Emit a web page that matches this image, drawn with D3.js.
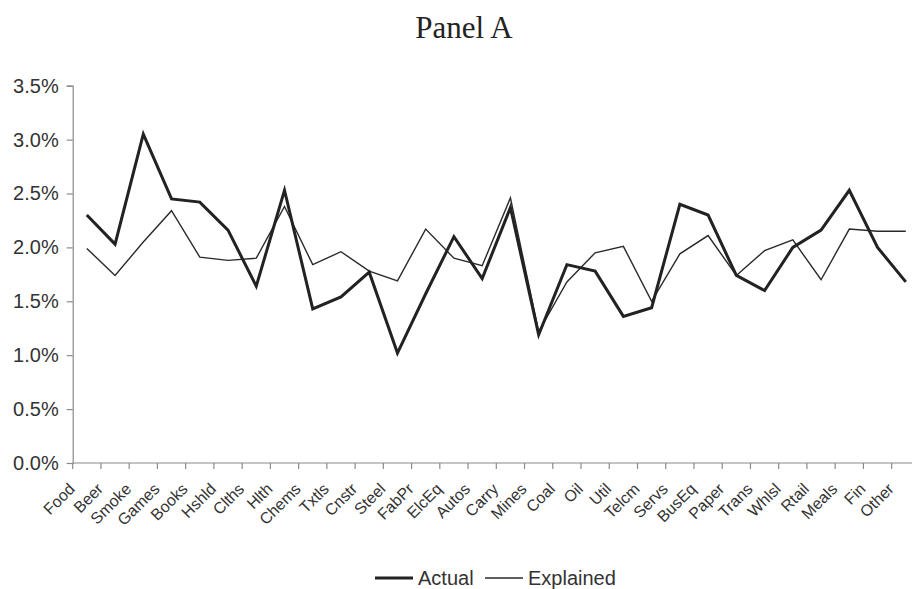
<!DOCTYPE html>
<html>
<head>
<meta charset="utf-8">
<script src="https://cdn.jsdelivr.net/npm/d3@7"></script>
<style>
  html, body { margin: 0; padding: 0; background: #ffffff; }
  svg { display: block; }
</style>
</head>
<body>
<svg id="chart" width="912" height="589"></svg>
<script>
// Industry portfolios (Fama-French 30)
const industries = ["Food","Beer","Smoke","Games","Books","Hshld","Clths","Hlth","Chems","Txtls",
  "Cnstr","Steel","FabPr","ElcEq","Autos","Carry","Mines","Coal","Oil","Util",
  "Telcm","Servs","BusEq","Paper","Trans","Whlsl","Rtail","Meals","Fin","Other"];

// Actual values, percent
const actual = [2.30, 2.03, 3.05, 2.45, 2.42, 2.16, 1.64, 2.53, 1.43, 1.54,
  1.77, 1.02, 1.57, 2.10, 1.71, 2.37, 1.19, 1.84, 1.78, 1.36,
  1.44, 2.40, 2.30, 1.74, 1.60, 2.00, 2.16, 2.53, 2.00, 1.68];

// Explained values, percent
const explained = [1.99, 1.74, 2.05, 2.34, 1.91, 1.88, 1.90, 2.38, 1.84, 1.96,
  1.78, 1.69, 2.17, 1.90, 1.83, 2.46, 1.22, 1.68, 1.95, 2.01,
  1.50, 1.94, 2.11, 1.74, 1.97, 2.07, 1.70, 2.17, 2.15, 2.15];

const yTicks = [0, 0.5, 1.0, 1.5, 2.0, 2.5, 3.0, 3.5];
const titleText = "Panel A";

const svg = d3.select("#chart");
const plotLeft = 72.7, plotRight = 919.9, plotTop = 85.7, plotBottom = 463;

const x = d3.scaleBand().domain(industries).range([plotLeft, plotRight]).paddingInner(0).paddingOuter(0);
const y = d3.scaleLinear().domain([0, 3.5]).range([plotBottom, plotTop]);
const xc = d => x(d) + x.bandwidth() / 2;

// Title
svg.append("text")
  .attr("x", 464).attr("y", 38)
  .attr("text-anchor", "middle")
  .attr("font-family", "'Liberation Serif', 'Times New Roman', serif")
  .attr("font-size", 31)
  .attr("fill", "#222")
  .text(titleText);

const axisColor = "#8a8a8a";
const sans = "'Liberation Sans', Arial, sans-serif";

// Y axis
const yAxis = svg.append("g")
  .attr("transform", `translate(${plotLeft},0)`)
  .call(d3.axisLeft(y).tickValues(yTicks).tickSize(6).tickPadding(8)
    .tickFormat(d => d.toFixed(1) + "%"));
yAxis.select(".domain").attr("stroke", axisColor).attr("stroke-width", 1.2);
yAxis.selectAll(".tick line").attr("stroke", axisColor).attr("stroke-width", 1.2);
yAxis.selectAll(".tick text").attr("font-family", sans).attr("font-size", 20).attr("fill", "#333");

// X axis: ticks at band boundaries
const xAxis = svg.append("g")
  .attr("transform", `translate(0,${plotBottom})`);
xAxis.append("line")
  .attr("x1", plotLeft).attr("x2", plotRight).attr("y1", 0).attr("y2", 0)
  .attr("stroke", axisColor).attr("stroke-width", 1.2);
xAxis.selectAll("line.tk")
  .data(industries)
  .join("line").attr("class", "tk")
  .attr("x1", d => x(d)).attr("x2", d => x(d))
  .attr("y1", 0).attr("y2", 6)
  .attr("stroke", axisColor).attr("stroke-width", 1.2);
xAxis.selectAll("text.lbl")
  .data(industries)
  .join("text").attr("class", "lbl")
  .attr("transform", d => `translate(${xc(d) - 11},${27}) rotate(-45)`)
  .attr("text-anchor", "end")
  .attr("font-family", sans)
  .attr("font-size", 16)
  .attr("fill", "#333")
  .text(d => d);

// Lines
const line = d3.line().x((d, i) => xc(industries[i])).y(d => y(d));
svg.append("path").datum(explained)
  .attr("d", line).attr("fill", "none")
  .attr("stroke", "#2a2a2a").attr("stroke-width", 1.4)
  .attr("stroke-linejoin", "miter");
svg.append("path").datum(actual)
  .attr("d", line).attr("fill", "none")
  .attr("stroke", "#222").attr("stroke-width", 3)
  .attr("stroke-linejoin", "miter");

// Legend
const leg = svg.append("g").attr("font-family", sans).attr("font-size", 20).attr("fill", "#333");
leg.append("line").attr("x1", 375).attr("x2", 413).attr("y1", 578).attr("y2", 578)
  .attr("stroke", "#222").attr("stroke-width", 3);
leg.append("text").attr("x", 418).attr("y", 585).text("Actual");
leg.append("line").attr("x1", 485).attr("x2", 523).attr("y1", 578).attr("y2", 578)
  .attr("stroke", "#2a2a2a").attr("stroke-width", 1.4);
leg.append("text").attr("x", 528).attr("y", 585).text("Explained");
</script>
</body>
</html>
